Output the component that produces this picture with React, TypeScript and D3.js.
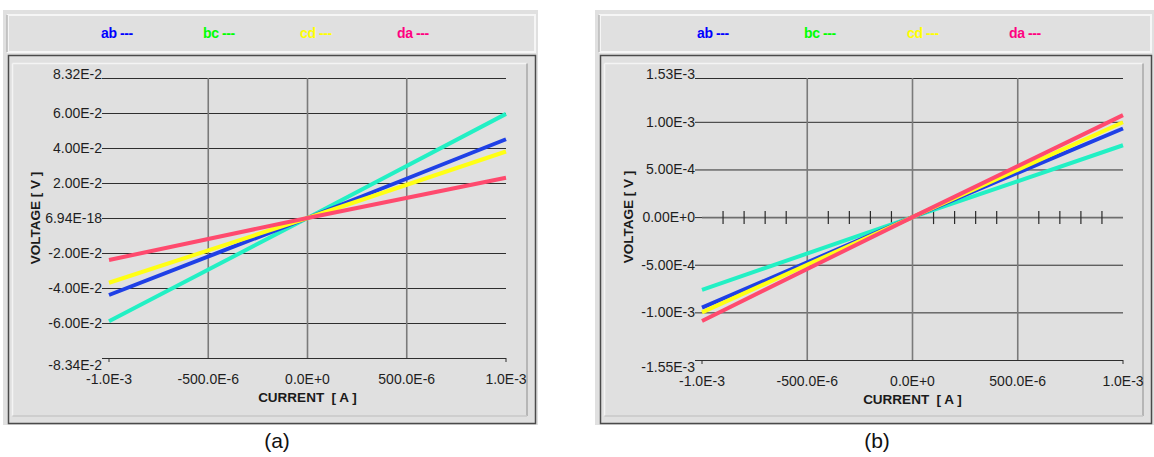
import React from 'react';
import * as d3 from 'd3';

// measured current points (A)
const currentA = [-1e-3, 0, 1e-3];

// panel (a) voltages (V)
const abA = [-0.044, 0, 0.045];
const bcA = [-0.059, 0, 0.0595];
const cdA = [-0.037, 0, 0.038];
const daA = [-0.024, 0, 0.023];

// panel (b) voltages (V)
const abB = [-0.95e-3, 0, 0.93e-3];
const bcB = [-0.764e-3, 0, 0.754e-3];
const cdB = [-1.0e-3, 0, 0.995e-3];
const daB = [-1.09e-3, 0, 1.07e-3];

const xTicks = [-1e-3, -5e-4, 0, 5e-4, 1e-3];
const xTickLabels = ['-1.0E-3', '-500.0E-6', '0.0E+0', '500.0E-6', '1.0E-3'];

const yTicksA = [-0.08, -0.06, -0.04, -0.02, 0, 0.02, 0.04, 0.06, 0.08];
const yTickLabelsA = ['-8.34E-2', '-6.00E-2', '-4.00E-2', '-2.00E-2', '6.94E-18', '2.00E-2', '4.00E-2', '6.00E-2', '8.32E-2'];

const yTicksB = [-1.5e-3, -1e-3, -5e-4, 0, 5e-4, 1e-3, 1.46e-3];
const yTickLabelsB = ['-1.55E-3', '-1.00E-3', '-5.00E-4', '0.00E+0', '5.00E-4', '1.00E-3', '1.53E-3'];

const seriesNames = ['ab', 'bc', 'cd', 'da'];
const legendColors = ['#0000ff', '#00ff00', '#ffff00', '#ff0080'];
const lineColors = ['#1f40e6', '#22f0c4', '#ffff14', '#ff4a6e'];

const FONT = '"Liberation Sans", Arial, sans-serif';
const BG = '#e0e0e0';

const Panel = ({ px, pw, left, right, bottom, yDomain, yTicks, yLabels, series, legendX, caption, captionX, minor }) => {
    const top = 78;
    const x = d3.scaleLinear().domain([-1e-3, 1e-3]).range([left, right]);
    const y = d3.scaleLinear().domain(yDomain).range([bottom, top]);
    const line = d3.line().x((d, i) => x(currentA[i])).y(d => y(d));
    const frameR = px + pw - 3;
    // draw order: bc, ab, cd, da
    const order = [1, 0, 2, 3];
    const minorTicks = minor ? x.ticks(20).filter(t => Math.abs(Math.round(t / 5e-4) * 5e-4 - t) > 1e-9) : [];
    const yMid = y(0);
    return (
        <g fontFamily={FONT}>
            <rect x={px} y={10} width={pw} height={415} fill={BG} />
            {/* legend box */}
            <rect x={px + 5} y={15} width={pw - 8} height={37} fill="none" stroke="#f6f6f6" strokeWidth="2" />
            <line x1={px + 4} x2={px + 4} y1={15} y2={52} stroke="#b8b8b8" strokeWidth="1.5" />
            {seriesNames.map((n, i) => (
                <text key={n} x={legendX[i]} y={33} dy="0.35em" fontSize="14" fontWeight="bold" fill={legendColors[i]} letterSpacing="-0.4">
                    {n} ---
                </text>
            ))}
            {/* plot frame */}
            <rect x={px + 5.5} y={55.5} width={frameR - px - 5} height={368} fill="none" stroke="#4a4a4a" strokeWidth="1.5" />
            <line x1={px + 9.5} x2={frameR - 8} y1={63.5} y2={63.5} stroke="#f4f4f4" strokeWidth="1.5" />
            <line x1={px + 9.5} x2={px + 9.5} y1={63.5} y2={416} stroke="#f4f4f4" strokeWidth="1.5" />
            <line x1={frameR - 8} x2={frameR - 8} y1={63.5} y2={416} stroke="#a8a8a8" strokeWidth="1.5" />
            <line x1={px + 9.5} x2={frameR - 8} y1={416} y2={416} stroke="#c8c8c8" strokeWidth="1.5" />

            {/* horizontal grid */}
            {yTicks.map((t, i) => (
                <g key={i}>
                    <line x1={left} x2={right} y1={y(t) + 0.5} y2={y(t) + 0.5}
                        stroke={minor && t === 0 ? '#6e6e6e' : '#2e2e2e'} strokeWidth={minor && t === 0 ? 1.8 : 1} />
                    <line x1={left - 7} x2={left} y1={y(t) + 0.5} y2={y(t) + 0.5} stroke="#2e2e2e" strokeWidth="1" />
                    <text x={left - 7} y={y(t) + (i === 0 ? 7 : i === yTicks.length - 1 ? -4 : 0)} dy="0.35em"
                        textAnchor="end" fontSize="14" fill="#1e1e1e">{yLabels[i]}</text>
                </g>
            ))}
            {/* vertical grid */}
            {xTicks.slice(1, -1).map(t => (
                <line key={t} x1={x(t)} x2={x(t)} y1={top} y2={bottom} stroke="#7a7a7a" strokeWidth="1.6" />
            ))}
            <line x1={right} x2={right} y1={bottom} y2={bottom + 4} stroke="#2e2e2e" />
            <line x1={left} x2={left} y1={bottom} y2={bottom + 4} stroke="#2e2e2e" />
            {minorTicks.map(t => (
                <line key={t} x1={x(t)} x2={x(t)} y1={yMid - 6} y2={yMid + 7} stroke="#2a2a2a" strokeWidth="1.2" />
            ))}
            {xTicks.map((t, i) => (
                <text key={t} x={x(t)} y={bottom + 21} dy="0.35em" textAnchor="middle" fontSize="14" fill="#1e1e1e">
                    {xTickLabels[i]}
                </text>
            ))}
            {/* series */}
            {order.map(i => (
                <path key={i} d={line(series[i])} fill="none" stroke={lineColors[i]} strokeWidth="4" />
            ))}
            {/* titles */}
            <text x={(left + right) / 2} y={bottom + 39} dy="0.35em" textAnchor="middle" fontSize="13.5" fontWeight="bold" fill="#1a1a1a"
                style={{ whiteSpace: 'pre' }}>
                {'CURRENT  [ A ]'}
            </text>
            <text transform={`translate(${left - 74},${yMid}) rotate(-90)`} dy="0.35em" textAnchor="middle" fontSize="13.5" fontWeight="bold" fill="#1a1a1a"
                style={{ whiteSpace: 'pre' }}>
                {'VOLTAGE [ V ]'}
            </text>
            <text x={captionX} y={441} dy="0.35em" textAnchor="middle" fontSize="21" fill="#111">{caption}</text>
        </g>
    );
};

const App = () => {
    return (
        <div style={{ position: 'absolute', left: 0, top: 0 }}>
            <svg width={1154} height={457} style={{ display: 'block', background: '#fff' }}>
                <Panel px={3} pw={535} left={109} right={506} bottom={358}
                    yDomain={[-0.08, 0.08]} yTicks={yTicksA} yLabels={yTickLabelsA}
                    series={[abA, bcA, cdA, daA]} legendX={[101, 203, 300, 397]} caption="(a)" captionX={277} minor={false} />
                <Panel px={595} pw={559} left={702} right={1123} bottom={360}
                    yDomain={[-1.5e-3, 1.46e-3]} yTicks={yTicksB} yLabels={yTickLabelsB}
                    series={[abB, bcB, cdB, daB]} legendX={[697, 804, 907, 1009]} caption="(b)" captionX={877} minor={true} />
            </svg>
        </div>
    );
};

export default App;
